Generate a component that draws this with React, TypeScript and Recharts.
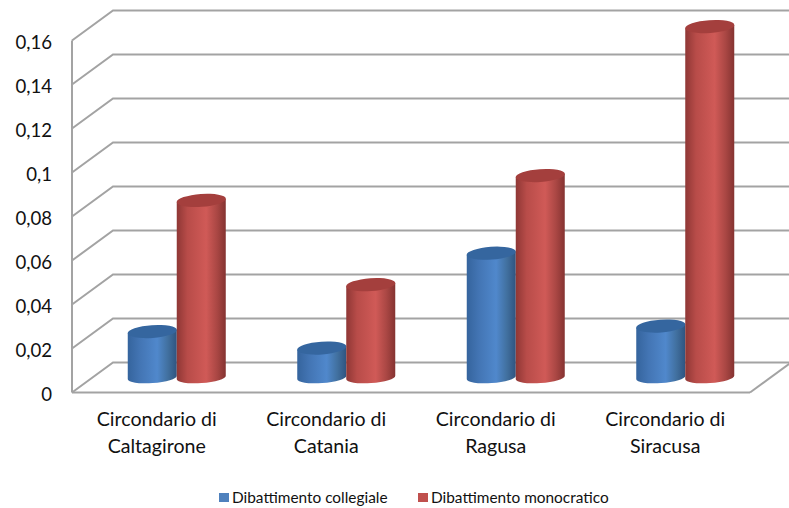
import React from 'react';
import { BarChart, Bar, XAxis, YAxis, CartesianGrid, Legend } from 'recharts';

const categories = ['Circondario di Caltagirone', 'Circondario di Catania', 'Circondario di Ragusa', 'Circondario di Siracusa'];
const collegiale = [0.0209, 0.0134, 0.0565, 0.0234];
const monocratico = [0.0805, 0.0422, 0.0918, 0.1595];
const yTicks = [0, 0.02, 0.04, 0.06, 0.08, 0.1, 0.12, 0.14, 0.16];
const data = categories.map((name, i) => ({ name, collegiale: collegiale[i], monocratico: monocratico[i] }));

const FONT = 'Lato, Carlito, Calibri, sans-serif';
const GRID = '#a3a3a3';
const DX = 41;
const DY = -30;

function Cylinder(props: any) {
  const { x, y, width, height, grad, topFill } = props;
  const r = width / 2;
  const ry = 6.4;
  const deg = -4;
  const cx = x + r + DX / 2;
  const top = y + DY / 2;
  const base = y + height + DY / 2;
  const rad = (deg * Math.PI) / 180;
  const ex = r * Math.cos(rad);
  const ey = r * Math.sin(rad);
  const d = `M${cx - r},${top - ey} L${cx - r},${base - ey} A${r},${5.6} ${deg} 0 0 ${cx + r},${base + ey} L${cx + r},${top + ey} Z`;
  return (
    <g>
      <path d={d} fill={`url(#${grad})`} />
      <ellipse cx={cx} cy={top} rx={ex + 0.2} ry={ry} fill={topFill} transform={`rotate(${deg} ${cx} ${top})`} />
    </g>
  );
}

function GridLine(props: any) {
  const { x1, x2, y1 } = props;
  const isFloor = Math.abs(y1 - 392.5) < 1;
  return (
    <g fill="none" stroke={GRID} strokeWidth={2}>
      <polyline points={`${x1},${y1} ${x1 + DX},${y1 + DY} ${x2 + DX},${y1 + DY}`} />
      {isFloor ? <line x1={x2} y1={y1} x2={x2 + DX} y2={y1 + DY} /> : null}
    </g>
  );
}

function CategoryTick(props: any) {
  const { x, y, payload } = props;
  const words = String(payload.value).split(' ');
  const last = words.pop();
  return (
    <text x={x} y={y} textAnchor="middle" fontFamily={FONT} fontSize={19.6} fill="#111">
      <tspan x={x} dy={25.5}>{words.join(' ')}</tspan>
      <tspan x={x} dy={27}>{last}</tspan>
    </text>
  );
}

const legendX = [219, 418];
const legendColors = ['#4f81bd', '#c0504d'];

function LegendContent(props: any) {
  const items = props.payload || [];
  return (
    <div style={{ position: 'relative', height: 0 }}>
      {items.map((it: any, i: number) => (
        <div key={i} style={{ position: 'absolute', left: legendX[i], top: 488, whiteSpace: 'nowrap', fontFamily: FONT, fontSize: 15.4, lineHeight: '18px', color: '#111' }}>
          <span style={{ position: 'absolute', left: 0, top: 5, width: 10, height: 9, background: legendColors[i] }} />
          <span style={{ marginLeft: 13 }}>{it.value}</span>
        </div>
      ))}
    </div>
  );
}

export default function App() {
  return (
    <div style={{ position: 'absolute', left: 0, top: 0, width: 789, height: 508, background: '#fff', overflow: 'hidden' }}>
      <BarChart
        width={789}
        height={508}
        data={data}
        margin={{ top: 40.5, right: 39, bottom: 0, left: 0 }}
        barCategoryGap="20.8%"
        barGap={0}
      >
        <defs>
          <linearGradient id="blueCyl" x1="0" y1="0" x2="1" y2="0">
            <stop offset="0" stopColor="#35649d" />
            <stop offset="0.25" stopColor="#4375b4" />
            <stop offset="0.6" stopColor="#5088cc" />
            <stop offset="0.82" stopColor="#41709f" />
            <stop offset="1" stopColor="#2f5480" />
          </linearGradient>
          <linearGradient id="redCyl" x1="0" y1="0" x2="1" y2="0">
            <stop offset="0" stopColor="#8f3735" />
            <stop offset="0.22" stopColor="#b84c49" />
            <stop offset="0.6" stopColor="#d05a57" />
            <stop offset="0.82" stopColor="#aa4744" />
            <stop offset="1" stopColor="#853331" />
          </linearGradient>
        </defs>
        <CartesianGrid horizontal={GridLine as any} vertical={false} syncWithTicks />
        <XAxis
          dataKey="name"
          height={115.5}
          interval={0}
          tick={CategoryTick as any}
          tickLine={false}
          axisLine={{ stroke: GRID, strokeWidth: 2 }}
        />
        <YAxis
          width={72}
          domain={[0, 0.16]}
          ticks={yTicks}
          interval={0}
          tickSize={0}
          tickMargin={20}
          tickLine={false}
          axisLine={{ stroke: GRID, strokeWidth: 2 }}
          tickFormatter={(v: number) => String(v).replace('.', ',')}
          tick={{ fontFamily: FONT, fontSize: 18.6, fill: '#111', dy: 2 }}
        />
        <Legend content={LegendContent as any} wrapperStyle={{ left: 0, top: 0, width: 789, height: 0 }} />
        <Bar
          dataKey="collegiale"
          name="Dibattimento collegiale"
          fill="#4f81bd"
          isAnimationActive={false}
          shape={(p: any) => <Cylinder {...p} grad="blueCyl" topFill="#35669f" />}
        />
        <Bar
          dataKey="monocratico"
          name="Dibattimento monocratico"
          fill="#c0504d"
          isAnimationActive={false}
          shape={(p: any) => <Cylinder {...p} grad="redCyl" topFill="#a43f3d" />}
        />
      </BarChart>
    </div>
  );
}
